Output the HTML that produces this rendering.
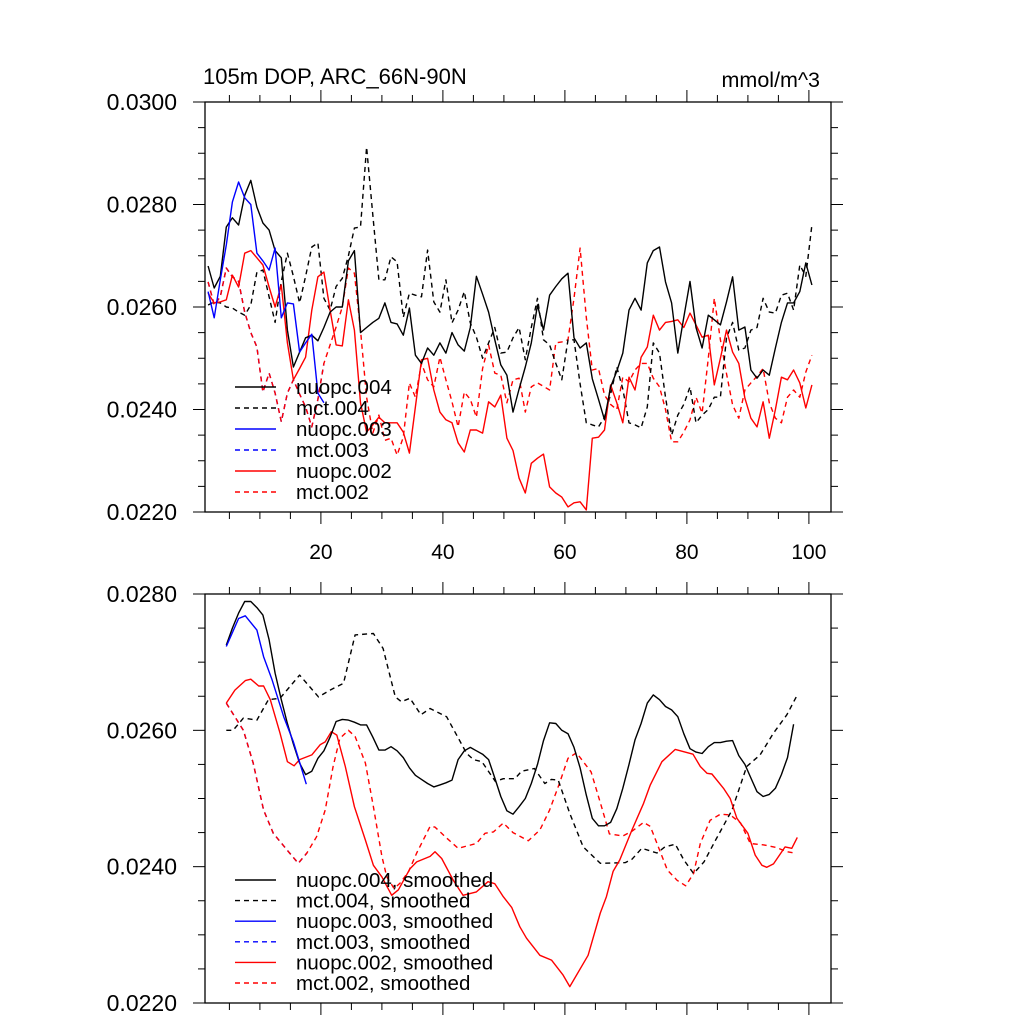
<!DOCTYPE html>
<html><head><meta charset="utf-8">
<style>
html,body{margin:0;padding:0;background:#fff;}
svg{display:block;font-family:"Liberation Sans",sans-serif;}
</style></head>
<body>
<svg id="chart" width="1024" height="1024" viewBox="0 0 1024 1024" xmlns="http://www.w3.org/2000/svg">
<text x="203" y="84" font-size="22">105m DOP, ARC_66N-90N</text>
<text x="820" y="87" font-size="21.5" text-anchor="end">mmol/m^3</text>
<g id="topPanel"></g>
<g id="botPanel"></g>
</svg>
<script>
// ---- top panel data (values in 1e-4 mmol/m^3), index k -> x = k + 1.5
const nuopc004 = [268,263.7,266,275.6,277.4,276,281.8,284.7,279.5,276.4,275,271,269.6,255.5,248.3,251.2,254,254.5,253.4,256,259,260,260,269,271,255,256,257,257.8,260.8,257,256.7,254.5,259.8,250.6,249,252,250.6,253,251,255,252.6,251.4,256,266,262.5,259,253.6,248.7,246.7,239.5,244,248.3,253,260.4,255.5,262.3,264,265.5,266.6,254,252,253,246,242,238,244.4,247.5,251,259.4,261.7,259.4,268.6,271,271.7,264.9,260.8,251,258,265,256,252,258.4,257.5,256.5,261,265.9,255.5,256.1,247.7,246.1,247.7,246.7,252,257,260.8,260.8,263,268.6,264.3];
const mct004 = [260.4,261,260.8,260,259.8,259,258.4,260.4,266.8,267.2,262,257,265,270.5,266,260.8,266,271.7,272.5,261.7,259.4,264,265.6,270,275.4,275.6,291.2,278,265.3,265.3,269.8,268.8,258,262.7,262.3,262,271.1,261,259,265.3,256.9,259.4,263,256.9,254.1,250,253,256,251,251.2,254,256,249.7,256,261.7,253.6,252.6,249,245.8,253.6,253.6,245,237.4,237,236.6,238.5,243,248.3,244,237.4,237,236.4,240.5,253,251,242.4,235,238.9,241,244.4,237.4,238.9,240,242.4,242.4,254,257,251.6,252,255.5,256,261.7,259,258.8,262.3,262.7,259.4,268.2,266,276];
const nuopc003 = [263,257.9,265.3,272.1,280.5,284.4,281.3,280,270.5,269,267.2,271.5,257.9,260.8,260.6,251.2,253,254.7,243.2,241.3];
const nuopc002 = [262.7,260.8,261,261.4,266.2,263.9,270.5,271,269.6,268.2,263.9,260,264.3,253,245.8,248,250.2,259.4,265.9,266.8,259.4,252.6,252.4,261.4,255.5,241.3,235.6,237,238.5,237.4,237.4,237.4,235.6,231.5,240.5,249.7,250,243.8,239.5,238,237.4,233.5,231.7,236,236,235.4,241.5,240.5,242.8,234.4,232,226.6,223.7,229.5,230.5,231.3,224.9,223.7,222.9,221,221.8,222,220.4,234.4,234.6,236,244.8,241.3,237.4,246.3,243.8,250.2,252.2,258.4,255.5,257,257.2,257.5,256,258.8,256.5,254.1,254.5,244.8,250,255.5,251.2,249,242.2,238.3,236.6,241.5,234.4,240,246.3,245.8,247.7,245.2,240.3,244.8];
const mct002 = [264.9,260.4,262,267.6,265.9,265,259,255,252.2,243.4,247.1,243.2,237.6,243.2,245.8,243,240.5,236.6,242,249,252.6,256.1,260,267.6,266.6,255.5,242.4,235.4,238.9,234,234.4,231.1,234.6,245.2,242.4,249,245.8,244.4,250.2,245.8,241.5,236.6,243.4,242,238.5,248,252.6,247.1,246.7,241.3,245.8,246.1,239.5,244.4,245.2,244.5,243.8,253,253.2,253.6,261.7,271.5,258,247.7,248,242.8,241,240,246.3,245.4,247.7,249,249,246.1,244.4,240,233.7,233.7,235.6,238,242.4,239.3,250,261.7,253.6,247,240.9,238.3,243.8,245.2,246.5,248,241.3,238.3,237.4,242.4,243.8,242.4,247.3,250.6];
const mct003 = mct002.slice(0,20);
const topYTicks = ["0.0220","0.0240","0.0260","0.0280","0.0300"];
const xTickLabels = ["20","40","60","80","100"];

// ---- bottom panel (smoothed) data: x positions (k) and values
const n4sX = [3,4,5,6,7,8,9,10,11,12,13,14,15,16,17,18,19,20,21,22,23,24,25,26,27,28,29,30,31,32,33,34,35,36,37,38,39,40,41,42,43,44,45,46,47,48,49,50,51,52,53,54,55,56,57,58,59,60,61,62,63,64,65,66,67,68,69,70,71,72,73,74,75,76,77,78,79,80,81,82,83,84,85,86,87,88,89,90,91,92,93,94,95,96];
const n4sV = [272.5,275,277.2,278.9,278.9,278,276.9,273.3,268.4,264.5,261,258,255.2,253.5,254,255.9,257,259,261.3,261.6,261.5,261.2,260.8,260.8,259,257.1,257.1,257.6,257,256,254.5,253.4,252.8,252.2,251.7,252,252.3,252.7,255.7,257,257.5,257,256.5,255.7,253,250.3,248.2,247.7,248.8,250,252.2,255,258.5,261.1,261,260,259.5,257.5,254.5,250.5,247.1,246,246,246.5,248.5,251.5,255,258.6,261,264,265.2,264.5,263.5,263,262,259.5,257.3,256.8,256.6,257.6,258.2,258.2,258.4,258.5,256.3,255,253,251,250.3,250.6,251.5,253.5,256,260.9];
const m4sX = [3,4.1,5.8,8,9.9,11.8,15,18.1,20,22.2,24.1,27.1,28.7,30.7,31.7,33.1,34.9,36.4,39.1,42.4,43.5,44.9,47.1,48.4,50.3,51.4,53.5,55.2,56.3,57.4,59.3,61.5,64.3,68.4,69.5,71.1,73.6,74.9,76.6,78,79.6,81.3,83.2,85.9,88.3,90.5,92.7,94.9,96.6];
const m4sV = [260,260,261.8,261.5,264.5,264.7,268.1,264.9,265.9,266.9,274,274.2,272,264.9,264.2,264.7,262.3,263.2,262,256.6,255.7,255.4,252.5,252.9,252.9,254,254.4,252.2,252.8,252.7,247.8,242.9,240.5,240.6,241.1,242.7,242,242.9,243.3,241,239,240.7,243.9,248.3,254.7,256.4,259.6,262.3,265.2];
const n3sX = [3,5,6.1,8,9.1,10.5,12.4,14,16.1];
const n3sV = [272.3,276.4,276.8,274.7,270.8,267.4,262,258.3,252.1];
const n2sX = [3,4.4,6.1,7,8.3,9.1,10.2,11.8,13,14.1,15,17,18.4,19.2,20.2,21.1,22.5,24,25.8,27.1,28.5,30.1,31.2,33.1,34.2,36.4,37.2,38.3,40.2,41.8,44,45.9,47,48.4,49.8,51.1,52.2,54.4,56.3,58.2,59.3,62.3,64.3,65.3,66.4,67.5,69.5,71.4,72.5,74.4,76.6,79.5,80.7,81.8,82.6,84.5,85.6,86.7,88.5,89.7,90.8,91.6,92.7,94.6,95.7,96.6];
const n2sV = [264,265.9,267.3,267.5,266.5,266.5,264.5,259.6,255.4,254.8,255.7,256.4,257.9,258.3,259.8,259.3,254.7,248.8,243.9,240.2,238.5,235.8,236.6,239.7,240.7,241.5,242.2,241.2,238,235.8,236.3,237.8,237.5,235.6,234,231.2,229.5,227,226.3,224.1,222.4,227,233.2,235.6,239.3,241,245.4,249.3,252,255.4,257.2,256.5,254.7,253.7,253.6,251.5,250,247.1,244.9,241.7,240.2,239.9,240.4,242.9,242.7,244.3];
const m2sX = [3,5.8,7.4,9.1,10.7,12.9,14.8,16.2,17.8,19.2,20.5,21.6,23,24.1,25.8,27.1,28.5,29.3,30.5,31.5,32.9,34.2,36.4,37.2,39.1,41,44,45.4,46.8,48.4,50,52.5,54.4,56,57.6,59,60.4,62.8,64.5,65.8,68,69.5,71.4,72.5,73.6,75.3,76.9,78.3,79.6,80.7,82.3,84,85.6,87.3,88.9,91.1,93.2,94.9,96.1];
const m2sV = [264,260,255.2,248.3,244.9,242.5,240.5,242,244.4,248.3,254.7,258.8,260,259.1,255.2,248.8,241.5,238.5,236.8,237.6,239.3,242,245.9,245.8,244.2,242.7,243.4,244.9,245.1,246.4,245,243.8,245.4,248.3,252.2,255.9,256.7,253.9,248.8,244.8,244.5,245.2,246.5,245.9,243.4,239.5,238,237.2,239,243.4,246.8,247.7,247.6,246.4,243.4,243.2,242.8,242.2,242];
const m3sX = m2sX.slice(0,8);
const m3sV = m2sV.slice(0,8);
const botYTicks = ["0.0220","0.0240","0.0260","0.0280"];

const NS = "http://www.w3.org/2000/svg";
const L = 205, R = 831;
const xPx = k => L + (k + 0.5) * 6.1;
const xVal = x => L + (x - 1) * 6.1;
function mk(tag, attrs, parent){ const e=document.createElementNS(NS,tag); for(const a in attrs) e.setAttribute(a,attrs[a]); parent.appendChild(e); return e; }

function frame(g, T, B, vmin, vmax, ylabels, showX){
  const yv = v => B - (v - vmin) / (vmax - vmin) * (B - T);
  const rect = mk('rect',{x:L,y:T,width:R-L,height:B-T,fill:'none',stroke:'#000','stroke-width':1.3},g);
  
  
  for(let v=vmin; v<=vmax+0.01; v+=5){
    const major = Math.abs((v-vmin)%20) < 0.01;
    const len = major?12:7, y=yv(v);
    const t1 = mk('line',{x1:L-len,x2:L,y1:y,y2:y,stroke:'#000','stroke-width':1},g);
    
    
    const t2 = mk('line',{x1:R,x2:R+len,y1:y,y2:y,stroke:'#000','stroke-width':1},g);
    
    
  }
  ylabels.forEach((s,i)=>{
    const t = mk('text',{x:177,y:yv(vmin+20*i)+8,'font-size':23,'text-anchor':'end'},g);
    t.textContent = s;
    
    
  });
  for(let x=5; x<=100; x+=5){
    const major = x%20===0, len = major?12:7, px=xVal(x);
    const a = mk('line',{x1:px,x2:px,y1:B,y2:B+len,stroke:'#000','stroke-width':1},g);
    
    
    const b = mk('line',{x1:px,x2:px,y1:T-len,y2:T,stroke:'#000','stroke-width':1},g);
    
    
  }
  if(showX){
    xTickLabels.forEach(s=>{
      const t = mk('text',{x:xVal(+s),y:B+47,'font-size':21,'text-anchor':'middle'},g);
      t.textContent = s;
      
      
    });
  }
  return yv;
}
function series(g, xs, vs, yv, color, dashed, name){
  const pts = vs.map((v,i)=>xs(i).toFixed(1)+','+yv(v).toFixed(1)).join(' ');
  const p = mk('polyline',{points:pts,fill:'none',stroke:color,'stroke-width':1.4,'stroke-linejoin':'round'},g);
  if(dashed) p.setAttribute('stroke-dasharray','5,4');
  
  
}
function legend(g, entries, y0, dy){
  entries.forEach((e,i)=>{
    const y=y0+i*dy;
    const ln = mk('line',{x1:235,x2:276,y1:y,y2:y,stroke:e[1],'stroke-width':1.4},g);
    if(e[2]) ln.setAttribute('stroke-dasharray','5,4');
    
    
    const t = mk('text',{x:296,y:y+7,'font-size':20.5},g);
    t.textContent = e[0];
    
    
  });
}

const topG = document.getElementById('topPanel');
const yt = frame(topG, 102, 512, 220, 300, topYTicks, true);
const ix = i => xPx(i);
series(topG, ix, mct003, yt, '#0000ff', true, 'mct003-line');
series(topG, ix, mct002, yt, '#ff0000', true, 'mct002-line');
series(topG, ix, mct004, yt, '#000', true, 'mct004-line');
series(topG, ix, nuopc002, yt, '#ff0000', false, 'nuopc002-line');
series(topG, ix, nuopc004, yt, '#000', false, 'nuopc004-line');
series(topG, ix, nuopc003, yt, '#0000ff', false, 'nuopc003-line');
legend(topG, [['nuopc.004','#000',0],['mct.004','#000',1],['nuopc.003','#0000ff',0],['mct.003','#0000ff',1],['nuopc.002','#ff0000',0],['mct.002','#ff0000',1]], 387, 21);

const botG = document.getElementById('botPanel');
const yb = frame(botG, 594, 1003, 220, 280, botYTicks, false);
series(botG, i=>xPx(m3sX[i]), m3sV, yb, '#0000ff', true, 'mct003-smoothed-line');
series(botG, i=>xPx(m2sX[i]), m2sV, yb, '#ff0000', true, 'mct002-smoothed-line');
series(botG, i=>xPx(m4sX[i]), m4sV, yb, '#000', true, 'mct004-smoothed-line');
series(botG, i=>xPx(n2sX[i]), n2sV, yb, '#ff0000', false, 'nuopc002-smoothed-line');
series(botG, i=>xPx(n4sX[i]), n4sV, yb, '#000', false, 'nuopc004-smoothed-line');
series(botG, i=>xPx(n3sX[i]), n3sV, yb, '#0000ff', false, 'nuopc003-smoothed-line');
legend(botG, [['nuopc.004, smoothed','#000',0],['mct.004, smoothed','#000',1],['nuopc.003, smoothed','#0000ff',0],['mct.003, smoothed','#0000ff',1],['nuopc.002, smoothed','#ff0000',0],['mct.002, smoothed','#ff0000',1]], 880, 20.6);
</script>
</body></html>
